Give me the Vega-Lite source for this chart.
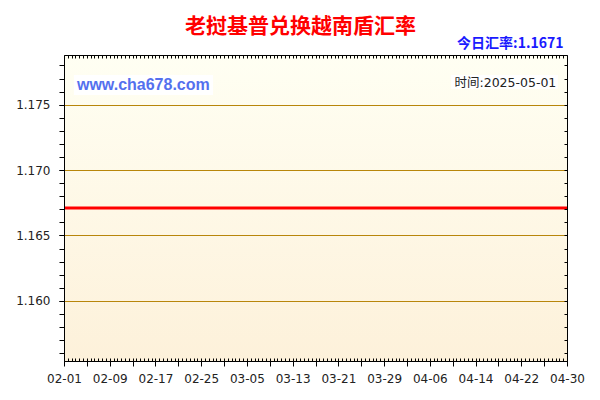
{
  "$schema": "https://vega.github.io/schema/vega-lite/v6.json",
  "width": 503,
  "height": 306,
  "autosize": "none",
  "padding": {"left": 64, "top": 55, "right": 33, "bottom": 39},
  "background": "white",
  "config": {
    "view": {"stroke": null},
    "axis": {
      "domainColor": "#000000",
      "tickColor": "#000000",
      "domainWidth": 1,
      "tickWidth": 1,
      "labelFont": "DejaVu Sans",
      "labelFontSize": 12,
      "labelColor": "#222222"
    }
  },
  "title": {
    "text": "老挝基普兑换越南盾汇率",
    "font": "Noto Sans CJK SC",
    "fontSize": 21,
    "fontWeight": "bold",
    "color": "#ff0000",
    "anchor": "middle",
    "frame": "group",
    "dx": -15,
    "offset": 0
  },
  "resolve": {"scale": {"x": "independent"}, "axis": {"x": "independent", "y": "independent"}},
  "layer": [
    {
      "data": {"values": [{}]},
      "mark": {"type": "rect", "color": {"gradient": "linear", "x1": 0, "y1": 0, "x2": 0, "y2": 1, "stops": [{"offset": 0, "color": "#fffff3"}, {"offset": 1, "color": "#fdf1da"}]}},
      "encoding": {
        "x": {"datum": 0, "type": "quantitative", "scale": {"domain": [0, 132], "nice": false, "zero": false}, "axis": null},
        "x2": {"datum": 132},
        "y": {"datum": 1.1554, "type": "quantitative", "scale": {"domain": [1.1554, 1.1788], "nice": false, "zero": false}, "axis": null},
        "y2": {"datum": 1.1788}
      }
    },
    {
      "data": {"values": [{}]},
      "mark": {"type": "rect", "color": "#ffffff"},
      "encoding": {
        "x": {"datum": 2.6, "type": "quantitative", "scale": {"domain": [0, 132], "nice": false, "zero": false}, "axis": null},
        "x2": {"datum": 39.1},
        "y": {"datum": 1.17727, "type": "quantitative", "scale": {"domain": [1.1554, 1.1788], "nice": false, "zero": false}, "axis": null},
        "y2": {"datum": 1.17574}
      }
    },
    {
      "data": {"values": [{}]},
      "mark": {"type": "rect", "color": "#ffffff"},
      "encoding": {
        "x": {"datum": 101.6, "type": "quantitative", "scale": {"domain": [0, 132], "nice": false, "zero": false}, "axis": null},
        "x2": {"datum": 129.6},
        "y": {"datum": 1.17727, "type": "quantitative", "scale": {"domain": [1.1554, 1.1788], "nice": false, "zero": false}, "axis": null},
        "y2": {"datum": 1.1762}
      }
    },
    {
      "data": {
        "values": [
          {"date": "2025-02-01", "rate": 1.1671}, {"date": "2025-02-02", "rate": 1.1671}, {"date": "2025-02-03", "rate": 1.1671},
          {"date": "2025-02-04", "rate": 1.1671}, {"date": "2025-02-05", "rate": 1.1671}, {"date": "2025-02-06", "rate": 1.1671},
          {"date": "2025-02-07", "rate": 1.1671}, {"date": "2025-02-08", "rate": 1.1671}, {"date": "2025-02-09", "rate": 1.1671},
          {"date": "2025-02-10", "rate": 1.1671}, {"date": "2025-02-11", "rate": 1.1671}, {"date": "2025-02-12", "rate": 1.1671},
          {"date": "2025-02-13", "rate": 1.1671}, {"date": "2025-02-14", "rate": 1.1671}, {"date": "2025-02-15", "rate": 1.1671},
          {"date": "2025-02-16", "rate": 1.1671}, {"date": "2025-02-17", "rate": 1.1671}, {"date": "2025-02-18", "rate": 1.1671},
          {"date": "2025-02-19", "rate": 1.1671}, {"date": "2025-02-20", "rate": 1.1671}, {"date": "2025-02-21", "rate": 1.1671},
          {"date": "2025-02-22", "rate": 1.1671}, {"date": "2025-02-23", "rate": 1.1671}, {"date": "2025-02-24", "rate": 1.1671},
          {"date": "2025-02-25", "rate": 1.1671}, {"date": "2025-02-26", "rate": 1.1671}, {"date": "2025-02-27", "rate": 1.1671},
          {"date": "2025-02-28", "rate": 1.1671},
          {"date": "2025-03-01", "rate": 1.1671}, {"date": "2025-03-02", "rate": 1.1671}, {"date": "2025-03-03", "rate": 1.1671},
          {"date": "2025-03-04", "rate": 1.1671}, {"date": "2025-03-05", "rate": 1.1671}, {"date": "2025-03-06", "rate": 1.1671},
          {"date": "2025-03-07", "rate": 1.1671}, {"date": "2025-03-08", "rate": 1.1671}, {"date": "2025-03-09", "rate": 1.1671},
          {"date": "2025-03-10", "rate": 1.1671}, {"date": "2025-03-11", "rate": 1.1671}, {"date": "2025-03-12", "rate": 1.1671},
          {"date": "2025-03-13", "rate": 1.1671}, {"date": "2025-03-14", "rate": 1.1671}, {"date": "2025-03-15", "rate": 1.1671},
          {"date": "2025-03-16", "rate": 1.1671}, {"date": "2025-03-17", "rate": 1.1671}, {"date": "2025-03-18", "rate": 1.1671},
          {"date": "2025-03-19", "rate": 1.1671}, {"date": "2025-03-20", "rate": 1.1671}, {"date": "2025-03-21", "rate": 1.1671},
          {"date": "2025-03-22", "rate": 1.1671}, {"date": "2025-03-23", "rate": 1.1671}, {"date": "2025-03-24", "rate": 1.1671},
          {"date": "2025-03-25", "rate": 1.1671}, {"date": "2025-03-26", "rate": 1.1671}, {"date": "2025-03-27", "rate": 1.1671},
          {"date": "2025-03-28", "rate": 1.1671}, {"date": "2025-03-29", "rate": 1.1671}, {"date": "2025-03-30", "rate": 1.1671},
          {"date": "2025-03-31", "rate": 1.1671},
          {"date": "2025-04-01", "rate": 1.1671}, {"date": "2025-04-02", "rate": 1.1671}, {"date": "2025-04-03", "rate": 1.1671},
          {"date": "2025-04-04", "rate": 1.1671}, {"date": "2025-04-05", "rate": 1.1671}, {"date": "2025-04-06", "rate": 1.1671},
          {"date": "2025-04-07", "rate": 1.1671}, {"date": "2025-04-08", "rate": 1.1671}, {"date": "2025-04-09", "rate": 1.1671},
          {"date": "2025-04-10", "rate": 1.1671}, {"date": "2025-04-11", "rate": 1.1671}, {"date": "2025-04-12", "rate": 1.1671},
          {"date": "2025-04-13", "rate": 1.1671}, {"date": "2025-04-14", "rate": 1.1671}, {"date": "2025-04-15", "rate": 1.1671},
          {"date": "2025-04-16", "rate": 1.1671}, {"date": "2025-04-17", "rate": 1.1671}, {"date": "2025-04-18", "rate": 1.1671},
          {"date": "2025-04-19", "rate": 1.1671}, {"date": "2025-04-20", "rate": 1.1671}, {"date": "2025-04-21", "rate": 1.1671},
          {"date": "2025-04-22", "rate": 1.1671}, {"date": "2025-04-23", "rate": 1.1671}, {"date": "2025-04-24", "rate": 1.1671},
          {"date": "2025-04-25", "rate": 1.1671}, {"date": "2025-04-26", "rate": 1.1671}, {"date": "2025-04-27", "rate": 1.1671},
          {"date": "2025-04-28", "rate": 1.1671}, {"date": "2025-04-29", "rate": 1.1671}, {"date": "2025-04-30", "rate": 1.1671}
        ]
      },
      "mark": {"type": "line", "color": "#ff0000", "strokeWidth": 3},
      "encoding": {
        "x": {
          "field": "date",
          "type": "temporal",
          "scale": {"type": "utc", "domain": [{"year": 2025, "month": 2, "date": 1, "utc": true}, {"year": 2025, "month": 4, "date": 30, "utc": true}]},
          "axis": {
            "orient": "bottom",
            "zindex": 1,
            "title": null,
            "grid": false,
            "ticks": false,
            "domain": true,
            "labelPadding": 12,
            "labelFlush": false,
            "labelOverlap": false,
            "format": "%m-%d",
            "values": [
              {"year": 2025, "month": 2, "date": 1, "utc": true},
              {"year": 2025, "month": 2, "date": 9, "utc": true},
              {"year": 2025, "month": 2, "date": 17, "utc": true},
              {"year": 2025, "month": 2, "date": 25, "utc": true},
              {"year": 2025, "month": 3, "date": 5, "utc": true},
              {"year": 2025, "month": 3, "date": 13, "utc": true},
              {"year": 2025, "month": 3, "date": 21, "utc": true},
              {"year": 2025, "month": 3, "date": 29, "utc": true},
              {"year": 2025, "month": 4, "date": 6, "utc": true},
              {"year": 2025, "month": 4, "date": 14, "utc": true},
              {"year": 2025, "month": 4, "date": 22, "utc": true},
              {"year": 2025, "month": 4, "date": 30, "utc": true}
            ]
          }
        },
        "y": {
          "field": "rate",
          "type": "quantitative",
          "scale": {"domain": [1.1554, 1.1788], "nice": false, "zero": false},
          "axis": {
            "orient": "left",
            "zindex": 1,
            "title": null,
            "values": [1.16, 1.165, 1.17, 1.175],
            "format": ".3f",
            "tickSize": 5,
            "labelPadding": 9,
            "labelOverlap": false,
            "grid": true,
            "gridColor": "#b8860b",
            "gridWidth": 1
          }
        }
      }
    },
    {
      "data": {"values": [{}]},
      "mark": {"type": "text", "align": "left", "baseline": "alphabetic", "font": "Liberation Sans", "fontSize": 16, "fontWeight": "bold", "color": "#5470ee"},
      "encoding": {
        "x": {"datum": 3.4, "type": "quantitative", "scale": {"domain": [0, 132], "nice": false, "zero": false}, "axis": null},
        "y": {"datum": 1.17612, "type": "quantitative", "scale": {"domain": [1.1554, 1.1788], "nice": false, "zero": false}, "axis": null},
        "text": {"value": "www.cha678.com"}
      }
    },
    {
      "data": {"values": [{}]},
      "mark": {"type": "text", "align": "right", "baseline": "alphabetic", "font": "DejaVu Sans, Noto Sans CJK SC", "fontSize": 12.5, "color": "#222222"},
      "encoding": {
        "x": {"datum": 129.2, "type": "quantitative", "scale": {"domain": [0, 132], "nice": false, "zero": false}, "axis": null},
        "y": {"datum": 1.17639, "type": "quantitative", "scale": {"domain": [1.1554, 1.1788], "nice": false, "zero": false}, "axis": null},
        "text": {"value": "时间:2025-05-01"}
      }
    },
    {
      "data": {"values": [{}]},
      "mark": {"type": "point", "opacity": 0},
      "encoding": {
        "x": {
          "datum": 0, "type": "quantitative",
          "scale": {"domain": [0, 132], "nice": false, "zero": false},
          "axis": {"orient": "bottom", "zindex": 1, "title": null, "tickCount": 132, "tickSize": -3, "labels": false, "domain": true, "grid": false}
        },
        "y": {
          "datum": 1.17, "type": "quantitative",
          "scale": {"domain": [1.1554, 1.1788], "nice": false, "zero": false},
          "axis": {
            "orient": "left", "zindex": 1, "title": null, "labels": false, "domain": false, "grid": false, "tickSize": 5,
            "values": [1.156, 1.157, 1.158, 1.159, 1.16, 1.161, 1.162, 1.163, 1.164, 1.165, 1.166, 1.167, 1.168, 1.169, 1.17, 1.171, 1.172, 1.173, 1.174, 1.175, 1.176, 1.177, 1.178]
          }
        }
      }
    },
    {
      "data": {"values": [{}]},
      "mark": {"type": "point", "opacity": 0},
      "encoding": {
        "x": {
          "datum": 0, "type": "quantitative",
          "scale": {"domain": [0, 132], "nice": false, "zero": false},
          "axis": {
            "orient": "top", "zindex": 1, "tickCount": 132, "tickSize": -3, "labels": false, "domain": true, "grid": false,
            "title": "今日汇率:1.1671", "titleFont": "Noto Sans CJK SC", "titleFontSize": 14, "titleFontWeight": "bold",
            "titleColor": "#1a1aff", "titleAnchor": "end", "titleAlign": "right", "titleX": 499, "titlePadding": 4
          }
        },
        "y": {
          "datum": 1.17, "type": "quantitative",
          "scale": {"domain": [1.1554, 1.1788], "nice": false, "zero": false},
          "axis": {
            "orient": "right", "zindex": 1, "title": null, "labels": false, "domain": true, "grid": false, "tickSize": -3,
            "values": [1.156, 1.157, 1.158, 1.159, 1.16, 1.161, 1.162, 1.163, 1.164, 1.165, 1.166, 1.167, 1.168, 1.169, 1.17, 1.171, 1.172, 1.173, 1.174, 1.175, 1.176, 1.177, 1.178]
          }
        }
      }
    },
    {
      "data": {"values": [{}]},
      "mark": {"type": "point", "opacity": 0},
      "encoding": {
        "x": {
          "datum": 0, "type": "quantitative",
          "scale": {"domain": [0, 132], "nice": false, "zero": false},
          "axis": {
            "orient": "bottom", "zindex": 1, "title": null, "labels": false, "domain": false, "grid": false, "tickSize": 5,
            "values": [0, 6, 12, 18, 24, 30, 36, 42, 48, 54, 60, 66, 72, 78, 84, 90, 96, 102, 108, 114, 120, 126, 132]
          }
        }
      }
    }
  ]
}
